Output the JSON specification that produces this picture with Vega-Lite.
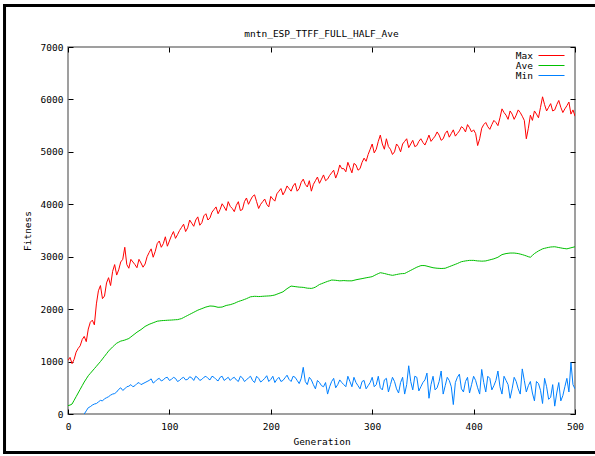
{
"$schema":"https://vega.github.io/schema/vega-lite/v6.json",
"width":507,"height":367,
"autosize":{"type":"none"},
"padding":{"left":68,"top":47,"right":20,"bottom":42},
"background":"white",
"title":{"text":"mntn_ESP_TTFF_FULL_HALF_Ave","font":"DejaVu Sans Mono","fontSize":9.5,"fontWeight":"normal","color":"#000000","offset":-34,"anchor":"middle"},
"config":{"view":{"stroke":"#808080","strokeWidth":1.5},"font":"DejaVu Sans Mono"},
"datasets":{"gen":[
{"g":0,"Max":1020,"Ave":160,"Min":null},
{"g":4,"Max":960,"Ave":190,"Min":null},
{"g":8,"Max":1180,"Ave":330,"Min":null},
{"g":12,"Max":1300,"Ave":470,"Min":null},
{"g":16,"Max":1480,"Ave":610,"Min":0},
{"g":20,"Max":1620,"Ave":730,"Min":120},
{"g":24,"Max":1790,"Ave":820,"Min":170},
{"g":28,"Max":2100,"Ave":910,"Min":200},
{"g":32,"Max":2450,"Ave":1000,"Min":260},
{"g":36,"Max":2250,"Ave":1100,"Min":290},
{"g":40,"Max":2600,"Ave":1200,"Min":330},
{"g":44,"Max":2720,"Ave":1280,"Min":380},
{"g":48,"Max":2650,"Ave":1350,"Min":420},
{"g":52,"Max":2900,"Ave":1390,"Min":500},
{"g":56,"Max":3180,"Ave":1410,"Min":480},
{"g":60,"Max":2780,"Ave":1440,"Min":530},
{"g":64,"Max":2900,"Ave":1500,"Min":520},
{"g":68,"Max":2790,"Ave":1560,"Min":580},
{"g":72,"Max":2880,"Ave":1610,"Min":560},
{"g":76,"Max":2860,"Ave":1670,"Min":600},
{"g":80,"Max":3080,"Ave":1710,"Min":640},
{"g":84,"Max":2990,"Ave":1740,"Min":590},
{"g":88,"Max":3250,"Ave":1770,"Min":660},
{"g":92,"Max":3180,"Ave":1780,"Min":630},
{"g":96,"Max":3380,"Ave":1785,"Min":690},
{"g":100,"Max":3300,"Ave":1790,"Min":640},
{"g":104,"Max":3480,"Ave":1795,"Min":700},
{"g":108,"Max":3420,"Ave":1800,"Min":620},
{"g":112,"Max":3560,"Ave":1820,"Min":680},
{"g":116,"Max":3480,"Ave":1860,"Min":650},
{"g":120,"Max":3700,"Ave":1900,"Min":710},
{"g":124,"Max":3580,"Ave":1940,"Min":640},
{"g":128,"Max":3760,"Ave":1980,"Min":690},
{"g":132,"Max":3650,"Ave":2010,"Min":660},
{"g":136,"Max":3820,"Ave":2040,"Min":720},
{"g":140,"Max":3740,"Ave":2060,"Min":650},
{"g":144,"Max":3900,"Ave":2055,"Min":700},
{"g":148,"Max":3820,"Ave":2035,"Min":630},
{"g":152,"Max":4010,"Ave":2040,"Min":720},
{"g":156,"Max":3880,"Ave":2070,"Min":670},
{"g":160,"Max":3960,"Ave":2085,"Min":640},
{"g":164,"Max":3860,"Ave":2110,"Min":700},
{"g":168,"Max":4050,"Ave":2145,"Min":620},
{"g":172,"Max":3900,"Ave":2170,"Min":690},
{"g":176,"Max":4120,"Ave":2200,"Min":650},
{"g":180,"Max":4080,"Ave":2235,"Min":720},
{"g":184,"Max":4180,"Ave":2245,"Min":600},
{"g":188,"Max":3920,"Ave":2240,"Min":680},
{"g":192,"Max":4050,"Ave":2245,"Min":640},
{"g":196,"Max":4000,"Ave":2250,"Min":730},
{"g":200,"Max":4150,"Ave":2255,"Min":660},
{"g":204,"Max":4060,"Ave":2270,"Min":600},
{"g":208,"Max":4250,"Ave":2300,"Min":700},
{"g":212,"Max":4180,"Ave":2330,"Min":640},
{"g":216,"Max":4350,"Ave":2390,"Min":740},
{"g":220,"Max":4250,"Ave":2440,"Min":620},
{"g":224,"Max":4400,"Ave":2430,"Min":700},
{"g":228,"Max":4300,"Ave":2420,"Min":580},
{"g":232,"Max":4480,"Ave":2415,"Min":890},
{"g":236,"Max":4330,"Ave":2400,"Min":560},
{"g":240,"Max":4250,"Ave":2395,"Min":650},
{"g":244,"Max":4450,"Ave":2420,"Min":480},
{"g":248,"Max":4400,"Ave":2470,"Min":600},
{"g":252,"Max":4560,"Ave":2500,"Min":520},
{"g":256,"Max":4480,"Ave":2530,"Min":380},
{"g":260,"Max":4600,"Ave":2555,"Min":620},
{"g":264,"Max":4500,"Ave":2550,"Min":500},
{"g":268,"Max":4750,"Ave":2540,"Min":650},
{"g":272,"Max":4680,"Ave":2545,"Min":560},
{"g":276,"Max":4800,"Ave":2540,"Min":720},
{"g":280,"Max":4600,"Ave":2540,"Min":520},
{"g":284,"Max":4750,"Ave":2560,"Min":600},
{"g":288,"Max":4680,"Ave":2575,"Min":480},
{"g":292,"Max":4880,"Ave":2590,"Min":640},
{"g":296,"Max":4950,"Ave":2605,"Min":540},
{"g":300,"Max":5150,"Ave":2620,"Min":700},
{"g":304,"Max":5050,"Ave":2660,"Min":560},
{"g":308,"Max":5320,"Ave":2695,"Min":500},
{"g":312,"Max":5050,"Ave":2680,"Min":650},
{"g":316,"Max":5100,"Ave":2660,"Min":420},
{"g":320,"Max":4950,"Ave":2645,"Min":700},
{"g":324,"Max":5150,"Ave":2660,"Min":480},
{"g":328,"Max":5000,"Ave":2675,"Min":600},
{"g":332,"Max":5200,"Ave":2680,"Min":380},
{"g":336,"Max":5080,"Ave":2720,"Min":920},
{"g":340,"Max":5220,"Ave":2760,"Min":460},
{"g":344,"Max":5120,"Ave":2800,"Min":700},
{"g":348,"Max":5250,"Ave":2830,"Min":520},
{"g":352,"Max":5130,"Ave":2830,"Min":650},
{"g":356,"Max":5320,"Ave":2810,"Min":300},
{"g":360,"Max":5250,"Ave":2790,"Min":720},
{"g":364,"Max":5380,"Ave":2780,"Min":500},
{"g":368,"Max":5220,"Ave":2775,"Min":820},
{"g":372,"Max":5350,"Ave":2780,"Min":540},
{"g":376,"Max":5280,"Ave":2810,"Min":640},
{"g":380,"Max":5420,"Ave":2840,"Min":180},
{"g":384,"Max":5350,"Ave":2870,"Min":700},
{"g":388,"Max":5480,"Ave":2905,"Min":480},
{"g":392,"Max":5380,"Ave":2920,"Min":620},
{"g":396,"Max":5460,"Ave":2930,"Min":400},
{"g":400,"Max":5420,"Ave":2930,"Min":720},
{"g":404,"Max":5120,"Ave":2920,"Min":500},
{"g":408,"Max":5450,"Ave":2915,"Min":850},
{"g":412,"Max":5560,"Ave":2920,"Min":420},
{"g":416,"Max":5430,"Ave":2940,"Min":680},
{"g":420,"Max":5600,"Ave":2960,"Min":540},
{"g":424,"Max":5500,"Ave":2990,"Min":820},
{"g":428,"Max":5820,"Ave":3040,"Min":380},
{"g":432,"Max":5700,"Ave":3060,"Min":640},
{"g":436,"Max":5780,"Ave":3070,"Min":300},
{"g":440,"Max":5620,"Ave":3070,"Min":700},
{"g":444,"Max":5800,"Ave":3060,"Min":480},
{"g":448,"Max":5680,"Ave":3040,"Min":860},
{"g":452,"Max":5250,"Ave":3015,"Min":420},
{"g":456,"Max":5700,"Ave":2990,"Min":620},
{"g":460,"Max":5780,"Ave":3060,"Min":250},
{"g":464,"Max":5650,"Ave":3110,"Min":580},
{"g":468,"Max":6050,"Ave":3150,"Min":200},
{"g":472,"Max":5780,"Ave":3170,"Min":520},
{"g":476,"Max":5920,"Ave":3185,"Min":320},
{"g":480,"Max":5800,"Ave":3190,"Min":150},
{"g":484,"Max":5980,"Ave":3175,"Min":600},
{"g":488,"Max":5750,"Ave":3160,"Min":350},
{"g":492,"Max":5880,"Ave":3150,"Min":680},
{"g":496,"Max":5720,"Ave":3170,"Min":980},
{"g":500,"Max":5680,"Ave":3190,"Min":480},
{"g":2,"Max":1080,"Ave":170,"Min":null},
{"g":6,"Max":1040,"Ave":260,"Min":null},
{"g":10,"Max":1250,"Ave":400,"Min":null},
{"g":14,"Max":1420,"Ave":540,"Min":null},
{"g":18,"Max":1380,"Ave":670,"Min":60},
{"g":22,"Max":1750,"Ave":775,"Min":140},
{"g":26,"Max":1700,"Ave":865,"Min":190},
{"g":30,"Max":2350,"Ave":955,"Min":230},
{"g":34,"Max":2200,"Ave":1050,"Min":250},
{"g":38,"Max":2500,"Ave":1150,"Min":310},
{"g":42,"Max":2450,"Ave":1240,"Min":360},
{"g":46,"Max":2850,"Ave":1315,"Min":390},
{"g":50,"Max":2750,"Ave":1370,"Min":470},
{"g":54,"Max":2950,"Ave":1400,"Min":450},
{"g":58,"Max":2850,"Ave":1425,"Min":520},
{"g":62,"Max":2950,"Ave":1470,"Min":560},
{"g":66,"Max":2850,"Ave":1530,"Min":540},
{"g":70,"Max":2950,"Ave":1585,"Min":600},
{"g":74,"Max":2800,"Ave":1640,"Min":580},
{"g":78,"Max":3000,"Ave":1690,"Min":620},
{"g":82,"Max":3150,"Ave":1725,"Min":670},
{"g":86,"Max":3100,"Ave":1755,"Min":620},
{"g":90,"Max":3300,"Ave":1775,"Min":680},
{"g":94,"Max":3250,"Ave":1783,"Min":650},
{"g":98,"Max":3200,"Ave":1788,"Min":700},
{"g":102,"Max":3400,"Ave":1792,"Min":660},
{"g":106,"Max":3350,"Ave":1798,"Min":680},
{"g":110,"Max":3500,"Ave":1810,"Min":640},
{"g":114,"Max":3620,"Ave":1840,"Min":700},
{"g":118,"Max":3550,"Ave":1880,"Min":660},
{"g":122,"Max":3640,"Ave":1920,"Min":690},
{"g":126,"Max":3700,"Ave":1960,"Min":720},
{"g":130,"Max":3600,"Ave":1995,"Min":640},
{"g":134,"Max":3780,"Ave":2025,"Min":700},
{"g":138,"Max":3700,"Ave":2050,"Min":680},
{"g":142,"Max":3850,"Ave":2058,"Min":720},
{"g":146,"Max":3950,"Ave":2045,"Min":660},
{"g":150,"Max":3900,"Ave":2037,"Min":700},
{"g":154,"Max":3950,"Ave":2055,"Min":640},
{"g":158,"Max":4050,"Ave":2078,"Min":700},
{"g":162,"Max":3920,"Ave":2098,"Min":680},
{"g":166,"Max":3980,"Ave":2128,"Min":650},
{"g":170,"Max":3880,"Ave":2158,"Min":720},
{"g":174,"Max":4050,"Ave":2185,"Min":620},
{"g":178,"Max":4000,"Ave":2218,"Min":690},
{"g":182,"Max":4150,"Ave":2240,"Min":640},
{"g":186,"Max":4050,"Ave":2243,"Min":720},
{"g":190,"Max":4000,"Ave":2242,"Min":610},
{"g":194,"Max":4100,"Ave":2248,"Min":680},
{"g":198,"Max":3950,"Ave":2252,"Min":620},
{"g":202,"Max":4100,"Ave":2262,"Min":720},
{"g":206,"Max":4200,"Ave":2285,"Min":660},
{"g":210,"Max":4300,"Ave":2315,"Min":620},
{"g":214,"Max":4250,"Ave":2360,"Min":690},
{"g":218,"Max":4300,"Ave":2415,"Min":660},
{"g":222,"Max":4350,"Ave":2435,"Min":720},
{"g":226,"Max":4250,"Ave":2425,"Min":640},
{"g":230,"Max":4420,"Ave":2418,"Min":680},
{"g":234,"Max":4380,"Ave":2408,"Min":620},
{"g":238,"Max":4450,"Ave":2398,"Min":700},
{"g":242,"Max":4380,"Ave":2405,"Min":560},
{"g":246,"Max":4520,"Ave":2445,"Min":640},
{"g":250,"Max":4480,"Ave":2485,"Min":540},
{"g":254,"Max":4450,"Ave":2515,"Min":600},
{"g":258,"Max":4550,"Ave":2542,"Min":520},
{"g":262,"Max":4650,"Ave":2553,"Min":680},
{"g":266,"Max":4600,"Ave":2545,"Min":560},
{"g":270,"Max":4680,"Ave":2542,"Min":600},
{"g":274,"Max":4620,"Ave":2542,"Min":520},
{"g":278,"Max":4700,"Ave":2540,"Min":620},
{"g":282,"Max":4780,"Ave":2550,"Min":700},
{"g":286,"Max":4650,"Ave":2568,"Min":540},
{"g":290,"Max":4800,"Ave":2582,"Min":620},
{"g":294,"Max":4820,"Ave":2598,"Min":480},
{"g":298,"Max":5050,"Ave":2612,"Min":600},
{"g":302,"Max":4980,"Ave":2640,"Min":520},
{"g":306,"Max":5200,"Ave":2678,"Min":720},
{"g":310,"Max":5150,"Ave":2688,"Min":460},
{"g":314,"Max":5250,"Ave":2670,"Min":680},
{"g":318,"Max":5050,"Ave":2652,"Min":560},
{"g":322,"Max":5000,"Ave":2652,"Min":620},
{"g":326,"Max":5100,"Ave":2668,"Min":400},
{"g":330,"Max":5150,"Ave":2678,"Min":700},
{"g":334,"Max":5250,"Ave":2700,"Min":560},
{"g":338,"Max":5150,"Ave":2740,"Min":620},
{"g":342,"Max":5100,"Ave":2780,"Min":720},
{"g":346,"Max":5200,"Ave":2815,"Min":440},
{"g":350,"Max":5180,"Ave":2832,"Min":600},
{"g":354,"Max":5220,"Ave":2820,"Min":780},
{"g":358,"Max":5200,"Ave":2800,"Min":560},
{"g":362,"Max":5300,"Ave":2785,"Min":460},
{"g":366,"Max":5320,"Ave":2778,"Min":620},
{"g":370,"Max":5250,"Ave":2777,"Min":380},
{"g":374,"Max":5400,"Ave":2795,"Min":700},
{"g":378,"Max":5350,"Ave":2825,"Min":520},
{"g":382,"Max":5300,"Ave":2855,"Min":600},
{"g":386,"Max":5400,"Ave":2888,"Min":760},
{"g":390,"Max":5450,"Ave":2912,"Min":420},
{"g":394,"Max":5520,"Ave":2925,"Min":700},
{"g":398,"Max":5380,"Ave":2930,"Min":560},
{"g":402,"Max":5350,"Ave":2925,"Min":640},
{"g":406,"Max":5250,"Ave":2918,"Min":380},
{"g":410,"Max":5520,"Ave":2917,"Min":600},
{"g":414,"Max":5480,"Ave":2930,"Min":720},
{"g":418,"Max":5520,"Ave":2950,"Min":460},
{"g":422,"Max":5560,"Ave":2975,"Min":640},
{"g":426,"Max":5650,"Ave":3015,"Min":520},
{"g":430,"Max":5750,"Ave":3050,"Min":720},
{"g":434,"Max":5620,"Ave":3065,"Min":560},
{"g":438,"Max":5720,"Ave":3070,"Min":480},
{"g":442,"Max":5700,"Ave":3065,"Min":620},
{"g":446,"Max":5750,"Ave":3050,"Min":380},
{"g":450,"Max":5600,"Ave":3028,"Min":640},
{"g":454,"Max":5450,"Ave":3000,"Min":540},
{"g":458,"Max":5600,"Ave":3025,"Min":400},
{"g":462,"Max":5720,"Ave":3085,"Min":620},
{"g":466,"Max":5850,"Ave":3130,"Min":450},
{"g":470,"Max":5900,"Ave":3160,"Min":680},
{"g":474,"Max":5850,"Ave":3178,"Min":280},
{"g":478,"Max":5780,"Ave":3188,"Min":560},
{"g":482,"Max":5900,"Ave":3183,"Min":400},
{"g":486,"Max":5850,"Ave":3168,"Min":250},
{"g":490,"Max":5820,"Ave":3155,"Min":520},
{"g":494,"Max":5950,"Ave":3160,"Min":420},
{"g":498,"Max":5800,"Ave":3180,"Min":560}
],"frame":[{"id":1}]},
"layer":[
{"data":{"name":"gen"},
 "transform":[{"fold":["Max","Ave","Min"],"as":["series","value"]}],
 "mark":{"type":"line","strokeWidth":1,"clip":true},
 "encoding":{
  "x":{"field":"g","type":"quantitative","scale":{"domain":[0,500],"nice":false,"zero":false},
   "axis":{"orient":"bottom","values":[0,100,200,300,400,500],"tickSize":-5,"tickColor":"#000000","labelPadding":12,"domain":false,"grid":false,"labelFont":"DejaVu Sans Mono","labelFontSize":9.5,"labelColor":"#000000","labelFlush":false,"format":"d","title":"Generation","titleFont":"DejaVu Sans Mono","titleFontSize":9.5,"titleFontWeight":"normal","titleColor":"#000000","titlePadding":6}},
  "y":{"field":"value","type":"quantitative","scale":{"domain":[0,7000],"nice":false,"zero":true},
   "axis":{"orient":"left","values":[0,1000,2000,3000,4000,5000,6000,7000],"tickSize":-5,"tickColor":"#000000","labelPadding":10,"domain":false,"grid":false,"labelFont":"DejaVu Sans Mono","labelFontSize":9.5,"labelColor":"#000000","labelFlush":false,"format":"d","title":"Fitness","titleFont":"DejaVu Sans Mono","titleFontSize":9.5,"titleFontWeight":"normal","titleColor":"#000000","titlePadding":8}},
  "color":{"field":"series","type":"nominal","scale":{"domain":["Max","Ave","Min"],"range":["#ff0000","#00c000","#0080ff"]},
   "legend":{"title":null,"orient":"none","legendX":478,"legendY":3,"padding":0,"symbolType":"M-2.6,0H2.6","symbolSize":100,"symbolStrokeWidth":1,"symbolFillColor":"transparent","labelAlign":"right","labelOffset":-24,"labelFont":"DejaVu Sans Mono","labelFontSize":9.5,"labelColor":"#000000","rowPadding":0}}
 }},
{"data":{"name":"gen"},
 "transform":[{"fold":["Max","Ave","Min"],"as":["series","value"]}],
 "mark":{"type":"line","strokeOpacity":0},
 "encoding":{
  "x":{"field":"g","type":"quantitative","scale":{"domain":[0,500],"nice":false,"zero":false},
   "axis":{"orient":"top","values":[0,100,200,300,400,500],"tickSize":-5,"tickColor":"#000000","labels":false,"domain":false,"grid":false,"title":null}},
  "y":{"field":"value","type":"quantitative","scale":{"domain":[0,7000],"nice":false,"zero":true},
   "axis":{"orient":"right","values":[0,1000,2000,3000,4000,5000,6000,7000],"tickSize":-5,"tickColor":"#000000","labels":false,"domain":false,"grid":false,"title":null}},
  "detail":{"field":"series","type":"nominal"}
 }},
{"data":{"name":"frame"},
 "mark":{"type":"rect","fill":"transparent","stroke":"#000000","strokeWidth":3,"clip":false},
 "encoding":{
  "x":{"datum":-62.6,"type":"quantitative","scale":{"domain":[0,500],"nice":false,"zero":false},"axis":null},
  "x2":{"datum":560},
  "y":{"datum":7791,"type":"quantitative","scale":{"domain":[0,7000],"nice":false,"zero":true},"axis":null},
  "y2":{"datum":-734}
 }}
],
"resolve":{"axis":{"x":"independent","y":"independent"}}
}
